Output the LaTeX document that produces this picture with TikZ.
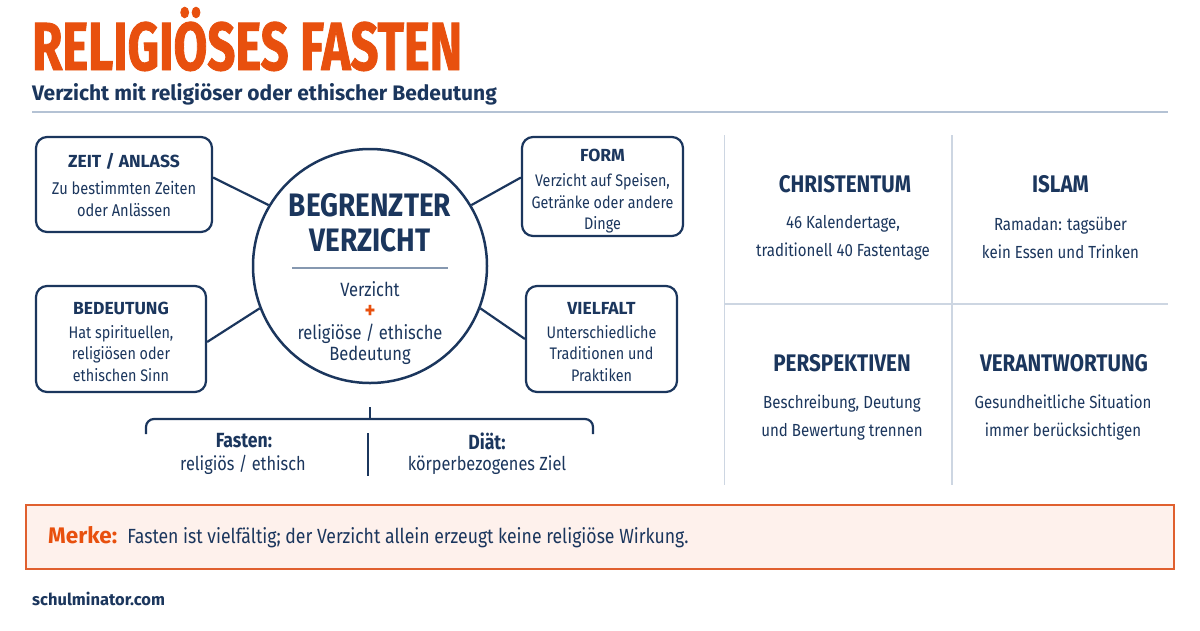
\documentclass[tikz,border=0pt]{standalone}
\usepackage{fontspec}
\setmainfont{Fira Sans}[FakeStretch=0.86]
\newfontfamily\titlefont{Fira Sans}[FakeStretch=0.72, FakeBold=1.2]
\newfontfamily\subfont{Fira Sans}
\usepackage{tikz}
\usetikzlibrary{positioning, calc}
\definecolor{navy}{HTML}{1B365D}
\definecolor{orange2}{HTML}{E8500E}
\definecolor{rulec}{HTML}{B4C2D4}
\definecolor{gridc}{HTML}{CDD6E2}
\definecolor{merkebg}{HTML}{FEF1EC}
\definecolor{merkeline}{HTML}{E0602F}
\newcommand{\boxhead}[2][0pt]{\rule{0pt}{#1}{\subfont\bfseries\fontsize{17.5}{20}\selectfont #2}}

\begin{document}
\begin{tikzpicture}[x=1pt, y=-1pt,
    infobox/.style={draw=navy, line width=2.2pt, rounded corners=11pt, fill=white,
                    align=center, text=navy, inner sep=0pt,
                    font=\fontsize{16.7}{21.5}\selectfont},
    link/.style={draw=navy, line width=2.2pt},
    hubtitle/.style={text=navy, font=\bfseries\fontsize{32.5}{36}\selectfont},
    hubtext/.style={text=navy, inner sep=0pt, font=\fontsize{19.2}{21.7}\selectfont},
    cmptitle/.style={text=navy, font=\bfseries\fontsize{20.5}{22}\selectfont},
    cmptext/.style={text=navy, font=\fontsize{19}{22}\selectfont},
    cellhead/.style={text=navy, font=\bfseries\fontsize{24}{28}\selectfont},
    celltext/.style={text=navy, align=center, font=\fontsize{17.5}{28}\selectfont},
    gridline/.style={draw=gridc, line width=1.3pt}]
  \useasboundingbox[fill=white] (0,0) rectangle (1200,630);

  % header
  \node[anchor=base west, inner sep=0pt, text depth=0pt, text=orange2,
        font=\titlefont\bfseries\fontsize{68}{68}\selectfont] (title) at (32,70) {RELIGIÖSES FASTEN};
  \node[anchor=base west, inner sep=0pt, text=navy,
        font=\subfont\bfseries\fontsize{21}{22}\selectfont] (subtitle) at (32,100)
        {Verzicht mit religiöser oder ethischer Bedeutung};
  \draw[draw=rulec, line width=1.5pt] (32,112) -- (1168,112);

  % hub and the four boxes
  \node[circle, draw=navy, line width=2.5pt, minimum size=234pt] (hub) at (370,266) {};
  \node[hubtitle] (hubA) at ($(hub)+(0,-61)$) {BEGRENZTER};
  \node[hubtitle] (hubB) at ($(hub)+(0,-26)$) {VERZICHT};
  \draw[draw=rulec!70!navy, line width=1.3pt] ($(hub)+(-78,2)$) -- ($(hub)+(78,2)$);
  \node[hubtext] (hubC) at ($(hub)+(0,23)$) {Verzicht};
  \node[text=orange2, inner sep=0pt, font=\bfseries\fontsize{24}{24}\selectfont] (plus) at ($(hub)+(0,46)$) {+};
  \node[hubtext] (hubD) at ($(hub)+(0,68)$) {religiöse / ethische};
  \node[hubtext] (hubE) at ($(hub)+(0,89)$) {Bedeutung};

  \node[infobox, minimum width=176pt, minimum height=95pt,
        font=\fontsize{17}{21.5}\selectfont] (zeit) at (124,184.5)
        {\boxhead{ZEIT / ANLASS}\\[6pt]Zu bestimmten Zeiten\\oder Anlässen};
  \node[infobox, minimum width=170pt, minimum height=106pt] (bedeutung) at (121,339)
        {\boxhead[18pt]{BEDEUTUNG}\\[2pt]Hat spirituellen,\\religiösen oder\\ethischen Sinn};
  \node[infobox, minimum width=161pt, minimum height=99pt] (form) at (602.5,186.5)
        {\boxhead[22pt]{FORM}\\[4pt]Verzicht auf Speisen,\\Getränke oder andere\\Dinge};
  \node[infobox, minimum width=151pt, minimum height=106pt] (vielfalt) at (601.5,339)
        {\boxhead[18pt]{VIELFALT}\\[2pt]Unterschiedliche\\Traditionen und\\Praktiken};

  \draw[link] ([yshift=7pt]zeit.east) -- (hub.149);
  \draw[link] ([yshift=-3pt]bedeutung.east) -- (hub.201);
  \draw[link] ([yshift=9pt]form.west) -- (hub.31);
  \draw[link] (vielfalt.west) -- (hub.-21);

  % fasten vs. diaet
  \coordinate (stub) at ($(hub.south)+(0,23)$);
  \draw[link] (stub) -- ++(0,13);
  \draw[link, rounded corners=8pt] (146,434) -- (146,419) -- (593,419) -- (593,434);
  \draw[link] (368,433) -- (368,476);
  \node[cmptitle] (fasten) at (244,441) {Fasten:};
  \node[cmptext] (fastenT) at (243,465) {religiös / ethisch};
  \node[cmptitle] (diaet) at (487,441) {Diät:};
  \node[cmptext] (diaetT) at (487,465) {körperbezogenes Ziel};

  % four cells
  \draw[gridline] (724.5,135) -- (724.5,485);
  \draw[gridline] (952,135) -- (952,485);
  \draw[gridline] (724.5,304) -- (1168,304);
  \node[cellhead] (christ) at (845,184) {CHRISTENTUM};
  \node[celltext] (christT) at (843,238) {46 Kalendertage,\\traditionell 40 Fastentage};
  \node[cellhead] (islam) at (1060.5,184) {ISLAM};
  \node[celltext] (islamT) at (1060.5,238) {Ramadan: tagsüber\\kein Essen und Trinken};
  \node[cellhead] (persp) at (842,363) {PERSPEKTIVEN};
  \node[celltext] (perspT) at (842,418) {Beschreibung, Deutung\\und Bewertung trennen};
  \node[cellhead] (verant) at (1064,363) {VERANTWORTUNG};
  \node[celltext] (verantT) at (1063,418) {Gesundheitliche Situation\\immer berücksichtigen};

  % merke
  \node[draw=merkeline, fill=merkebg, line width=1.5pt, anchor=north west,
        minimum width=1148pt, minimum height=64pt] (merke) at (25,504) {};
  \node[anchor=west, text=navy, inner sep=0pt, font=\fontsize{20.5}{22}\selectfont] (merkeT) at (48,537)
        {{\color{orange2}\subfont\bfseries\fontsize{22.5}{24}\selectfont Merke:}\hspace{10pt}Fasten ist vielfältig; der Verzicht allein erzeugt keine religiöse Wirkung.};

  \node[anchor=west, inner sep=0pt, text=navy, font=\subfont\bfseries\fontsize{16.5}{20}\selectfont] (site) at (32,599) {schulminator.com};
\end{tikzpicture}
\end{document}
